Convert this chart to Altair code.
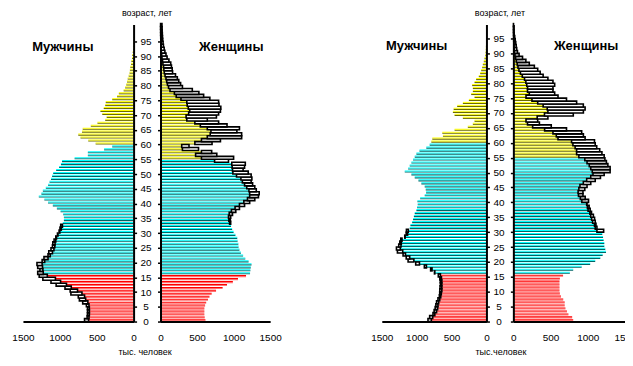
import altair as alt
import pandas as pd

FONT = "Liberation Sans"
AGES = list(range(101))

# ---------- left pyramid (thousands) ----------
L_MEN = [610, 605, 600, 600, 600, 605, 620, 650, 665, 700, 760, 845, 910, 990, 1060, 1170,
         1225, 1230, 1235, 1240, 1205, 1160, 1130, 1100, 1080, 1068, 1065, 1055, 1045, 1025, 1000, 980, 965,
         960, 945, 945, 955, 990, 1040, 1095, 1160, 1210, 1285, 1250, 1230, 1190, 1160, 1140, 1120, 1105, 1090, 1050, 1010, 985, 970,
         800, 620, 620, 400, 290,
         515, 615, 720, 750, 700, 690, 580, 490, 385, 365, 425, 450, 405, 385, 378, 290,
         225, 200, 135, 115, 100, 90, 80, 67, 55, 50, 45, 35, 30, 22, 18, 12, 8, 6, 5, 4, 3, 2, 2, 1, 1]
L_MEN_TOTAL = [665, 630, 625, 625, 625, 640, 690, 735, 750, 850, 860, 930, 1050, 1120, 1230, 1280,
               1300, 1270, 1300, 1310, 1240, 1215, 1160, 1150, 1120, 1100, 1095, 1078, 1055, 1032, 1010, 998, 988] + L_MEN[33:]
L_WOMEN = [615, 605, 600, 600, 600, 610, 625, 650, 670, 700, 760, 850, 910, 990, 1060, 1170,
           1225, 1230, 1235, 1245, 1205, 1160, 1130, 1100, 1080, 1068, 1065, 1055, 1050, 1025, 1000, 980, 965,
           945, 935, 930, 940, 970, 1020, 1080, 1140, 1190, 1220, 1220, 1210, 1180, 1150, 1120, 1100, 1040, 990, 985, 980, 975, 740,
           560, 480, 560, 300, 290,
           470, 560, 640, 680, 690, 640, 545, 470, 360, 350, 385, 400, 380, 365, 360, 280,
           215, 190, 130, 110, 95, 85, 75, 62, 52, 46, 42, 33, 28, 20, 16, 11, 8, 6, 5, 4, 3, 2, 2, 1, 1]
L_WOMEN_TOTAL = L_WOMEN[:33] + [
    960, 955, 960, 985, 1030, 1080, 1150, 1220, 1290, 1340, 1350, 1310, 1290, 1260, 1240, 1250, 1240, 1200, 1130, 1150, 1160, 930,
    1000, 770, 700, 520, 390,
    705, 820, 1110, 1110, 1045, 1080, 910, 795, 640, 765, 795, 820, 825, 800, 795, 675,
    590, 525, 435, 300, 275, 250, 230, 205, 165, 160, 150, 140, 115, 90, 75, 60, 50, 40, 35, 30, 27, 25, 23, 22, 20]

# ---------- right pyramid (thousands) ----------
R_MEN = [790, 770, 740, 715, 700, 695, 685, 670, 655, 647, 640, 640, 640, 640, 645, 660,
         740, 780, 860, 960, 1040, 1100, 1160, 1200, 1235, 1225, 1220, 1210, 1165, 1130, 1120,
         1100, 1090, 1065, 1052, 1040, 1028, 1004, 995, 985, 990, 950, 885, 865, 870, 885, 933, 975, 1028, 1076, 1171, 1123, 1100, 1076, 1052,
         1028, 1004, 960, 862, 814,
         790, 776, 624, 633, 457, 267, 195, 171, 338, 457, 481, 470, 420, 338, 252, 171,
         219, 195, 195, 205, 171, 148, 110, 90, 76, 62, 52, 38, 29, 19, 14, 10, 8, 6, 5, 4, 3, 2, 2, 1, 1]
R_MEN_TOTAL = [838, 814, 766, 750, 735, 725, 715, 695, 675, 670, 668, 665, 660, 662, 668, 690,
               745, 800, 890, 1014, 1123, 1150, 1195, 1276, 1290, 1257, 1242, 1228, 1171, 1150, 1147] + R_MEN[31:]
R_WOMEN = [804, 790, 740, 720, 700, 690, 690, 670, 640, 625, 620, 620, 620, 620, 625, 668,
           759, 804, 918, 1032, 1100, 1168, 1200, 1245, 1235, 1222, 1222, 1213, 1205, 1195,
           1123, 1100, 1090, 1065, 1052, 1040, 1028, 1004, 995, 985, 920, 900, 875, 870, 880, 895, 940, 985, 1040, 1070, 1060, 1040, 1020, 990, 960,
           880, 850, 850, 830, 800,
           782, 600, 577, 532, 420, 259, 190, 170, 320, 418, 464, 455, 400, 327, 250, 170,
           214, 190, 191, 180, 168, 150, 120, 95, 75, 62, 52, 40, 30, 22, 14, 10, 8, 6, 5, 4, 3, 2, 2, 1, 1]
R_WOMEN_TOTAL = R_WOMEN[:30] + [
    1213, 1123, 1110, 1100, 1091, 1075, 1050, 1032, 1018, 990, 1010, 965, 935, 935, 960, 990, 1040, 1100, 1170, 1220, 1300, 1300, 1270, 1250, 1230,
    1220, 1190, 1160, 1120, 1100,
    1090, 964, 941, 918, 714, 509, 350, 327, 464, 805, 941, 964, 940, 850, 714, 600,
    555, 532, 532, 555, 532, 464, 400, 360, 327, 282, 214, 168, 123, 77, 55, 45, 38, 32, 25, 18, 10, 6, 4, 2, 1]

HEADS = ["Мужчины", "Женщины"]
AGE_TITLE = "возраст, лет"
X_TITLES = ["тыс. человек", "тыс.человек"]
X_TICKS = [0, 500, 1000, 1500]
AGE_TICKS = list(range(0, 100, 5))

BRIGHT = alt.Scale(domain=["r", "c", "y"], range=["#ff0000", "#00ffff", "#ffff00"])
DARK = alt.Scale(domain=["r", "c", "y"], range=["#ff7070", "#006464", "#6a6a00"])


def grp(a, limit):
    if a <= 15:
        return "r"
    return "c" if a <= limit else "y"


def panel(bar, total, limit, width, reverse, ydom, yaxis, xaxis, head, head_x, head_age):
    df = pd.DataFrame({"age": AGES, "bar": bar, "total": total,
                       "grp": [grp(a, limit) for a in AGES]})
    xs = alt.Scale(domain=[0, 1500], reverse=reverse, nice=False, zero=False)
    ys = alt.Scale(domain=ydom, nice=False, zero=False)
    base = alt.Chart(df).transform_calculate(
        top="datum.age + 1", lo="datum.age + 0.02", mid="datum.age + 0.40",
        hi="datum.age + 0.74", zero="0")

    def X(f):
        return alt.X(f, type="quantitative", scale=xs, axis=xaxis)

    def Y(f):
        return alt.Y(f, type="quantitative", scale=ys, axis=yaxis)

    dark = base.mark_rect().encode(
        x=X("bar"), x2="zero:Q", y=Y("lo"), y2="mid:Q",
        color=alt.Color("grp:N", scale=DARK, legend=None))
    bright = base.mark_rect().encode(
        x=X("bar"), x2="zero:Q", y=Y("mid"), y2="hi:Q",
        color=alt.Color("grp:N", scale=BRIGHT, legend=None))
    box = base.transform_filter("datum.total > datum.bar").mark_rect(
        fill="white", stroke="black", strokeWidth=1.6).encode(
        x=X("bar"), x2="total:Q", y=Y("age"), y2="top:Q")
    text = alt.Chart(pd.DataFrame({"t": [head]})).mark_text(
        font=FONT, fontSize=13, fontWeight="bold", color="black").encode(
        x=alt.XDatum(head_x, type="quantitative", scale=xs, axis=xaxis),
        y=alt.YDatum(head_age, type="quantitative", scale=ys, axis=yaxis),
        text="t:N")
    return alt.layer(dark, bright, box, text).resolve_scale(color="independent").properties(
        width=width, height=298)


def male_yaxis():
    return alt.Axis(orient="right", values=AGE_TICKS, tickSize=3, labelPadding=9,
                    labelAlign="center", labelBaseline="middle", labelFontSize=10,
                    domainWidth=2, tickWidth=1.5, title=AGE_TITLE, titleAngle=0,
                    titleX=13, titleY=-16, titleAlign="center", titleBaseline="top",
                    titleFontSize=9, titleFontWeight="normal", zindex=1, grid=False)


def female_yaxis():
    return alt.Axis(orient="left", values=AGE_TICKS, labels=False, tickSize=3,
                    domainWidth=2, tickWidth=1.5, title=None, zindex=1, grid=False)


def xaxis(title=None, title_x=0):
    kw = dict(values=X_TICKS, format="d", ticks=False, tickSize=0, labelPadding=11,
              labelFontSize=10, labelFlush=False, domainWidth=2, zindex=1, grid=False)
    if title:
        kw.update(title=title, titleX=title_x, titleY=26, titleAlign="center",
                  titleBaseline="top", titleFontSize=9, titleFontWeight="normal")
    else:
        kw.update(title=None)
    return alt.Axis(**kw)


m1 = panel(L_MEN, L_MEN_TOTAL, 59, 111, True, [0, 100.7], male_yaxis(),
           xaxis(X_TITLES[0], 122), HEADS[0], 960, 93.2)
f1 = panel(L_WOMEN, L_WOMEN_TOTAL, 54, 110, False, [0, 100.7], female_yaxis(),
           xaxis(), HEADS[1], 968, 93.2)
m2 = panel(R_MEN, R_MEN_TOTAL, 59, 105, True, [0, 99.7], male_yaxis(),
           xaxis(X_TITLES[1], 119), HEADS[0], 1000, 92.6)
f2 = panel(R_WOMEN, R_WOMEN_TOTAL, 54, 112, False, [0, 99.7], female_yaxis(),
           xaxis(), HEADS[1], 978, 92.6)

spacer = alt.Chart(pd.DataFrame({"v": [0]})).mark_point(opacity=0).encode(
    x=alt.X("v:Q", axis=None), y=alt.Y("v:Q", axis=None)).properties(width=58, height=298)

chart = alt.hconcat(m1, f1, spacer, m2, f2, spacing=27, bounds="flush").resolve_scale(
    x="independent", y="independent", color="independent").configure_view(
    stroke=None).configure_axis(
    domainColor="black", tickColor="black", labelColor="black", titleColor="black",
    labelFont=FONT, titleFont=FONT).properties(
    padding={"left": 3, "top": 0, "right": -12, "bottom": 0}, background="white")

chart.save("out.html", embed_options={"renderer": "svg", "actions": False})
